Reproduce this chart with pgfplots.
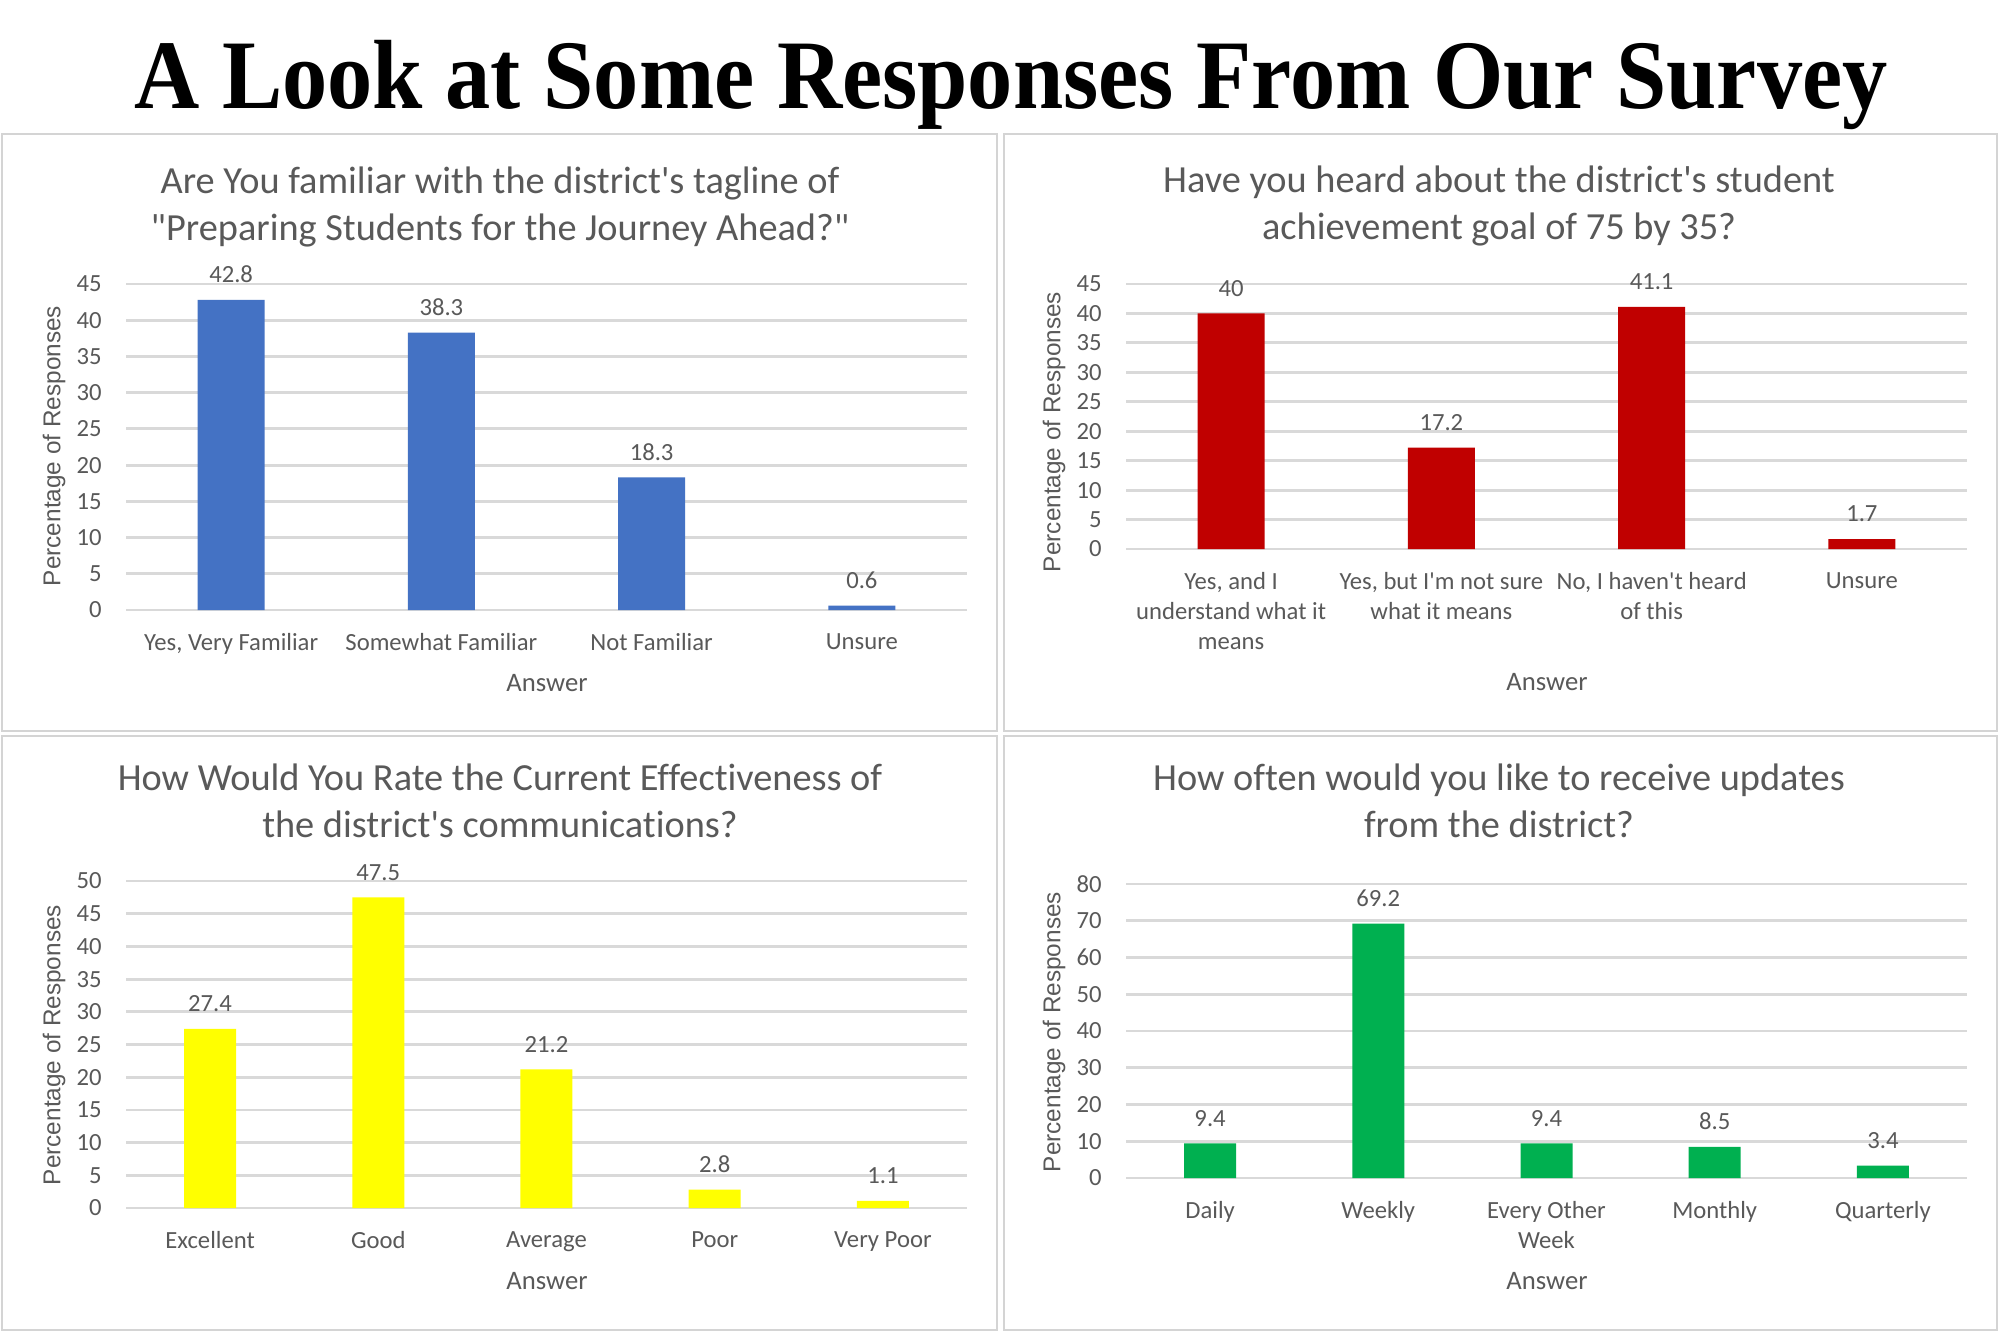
\documentclass[border=0pt]{standalone}
\usepackage{pgfplots}
\pgfplotsset{compat=1.18}
\usepackage{fontspec}
\setmainfont{Carlito}[Ligatures={TeXOff,CommonOff}]
\newfontfamily\ylabfont{Liberation Sans}
\newfontfamily\titlefont{Liberation Serif}
\definecolor{txt}{HTML}{595959}
\definecolor{gridc}{HTML}{D9D9D9}
\definecolor{framec}{HTML}{D4D4D4}
\definecolor{barblue}{HTML}{4472C4}
\definecolor{barred}{HTML}{C00000}
\definecolor{baryellow}{HTML}{FFFF00}
\definecolor{bargreen}{HTML}{00B050}

\pgfplotsset{
  /pgf/number format/assume math mode=true,
  surveybar/.style={
    scale only axis, anchor=south west, clip=false,
    width=252.3pt,
    axis line style={draw=none},
    ymin=0, ymajorgrids,
    grid style={gridc, line width=0.85pt},
    major tick length=0pt,
    xtick=data,
    ybar,
    tick label style={font=\fontsize{7.4}{9}\selectfont, text=txt},
    yticklabel style={xshift=-3.8pt},
    xticklabel style={yshift=-3.6pt, align=center},
    nodes near coords,
    every node near coord/.append style={font=\fontsize{7.4}{9}\selectfont, text=txt, yshift=1.6pt},
  },
}

\begin{document}
\begin{tikzpicture}
\fill[white] (0pt,0pt) rectangle (600pt,-400pt);
\useasboundingbox (0pt,0pt) rectangle (600pt,-400pt);

% panel 1: tagline
\begin{axis}[surveybar, at={(37.8pt,-183pt)}, height=97.8pt,
  ymax=45, ytick distance=5, xmin=-0.5, xmax=3.5,
  xticklabels={Yes{,} Very Familiar, Somewhat Familiar, Not Familiar, Unsure}]
\addplot[fill=barblue, draw=none, bar width=20.1pt] coordinates {(0,42.8)(1,38.3)(2,18.3)(3,0.6)};
\end{axis}

% panel 2: 75 by 35
\begin{axis}[surveybar, at={(337.8pt,-164.7pt)}, height=79.5pt,
  ymax=45, ytick distance=5, xmin=-0.5, xmax=3.5,
  xticklabels={{Yes, and I\\understand what it\\means}, {Yes, but I'm not sure\\what it means}, {No, I haven't heard\\of this}, Unsure}]
\addplot[fill=barred, draw=none, bar width=20.1pt] coordinates {(0,40)(1,17.2)(2,41.1)(3,1.7)};
\end{axis}

% panel 3: effectiveness
\begin{axis}[surveybar, at={(37.8pt,-362.4pt)}, height=98.1pt,
  ymax=50, ytick distance=5, xmin=-0.5, xmax=4.5,
  xticklabels={Excellent, Good, Average, Poor, Very Poor}]
\addplot[fill=baryellow, draw=none, bar width=15.6pt] coordinates {(0,27.4)(1,47.5)(2,21.2)(3,2.8)(4,1.1)};
\end{axis}

% panel 4: update frequency
\begin{axis}[surveybar, at={(337.8pt,-353.4pt)}, height=88.2pt,
  ymax=80, ytick distance=10, xmin=-0.5, xmax=4.5,
  xticklabels={Daily, Weekly, {Every Other\\Week}, Monthly, Quarterly}]
\addplot[fill=bargreen, draw=none, bar width=15.6pt] coordinates {(0,9.4)(1,69.2)(2,9.4)(3,8.5)(4,3.4)};
\end{axis}

\begin{scope}[x=0.3pt, y=-0.3pt]
% panel frames
\draw[framec, line width=0.8pt] (2,134) rectangle (997,731);
\draw[framec, line width=0.8pt] (1004,134) rectangle (1997,731);
\draw[framec, line width=0.8pt] (2,736) rectangle (997,1330);
\draw[framec, line width=0.8pt] (1004,736) rectangle (1997,1330);

% main title
\node[anchor=base, inner sep=0pt] at (1011,108)
  {\resizebox{526pt}{\height}{\titlefont\bfseries\fontsize{29.5}{30}\selectfont A Look at Some Responses From Our Survey}};

% chart titles
\tikzset{ctitle/.style={anchor=base, inner sep=0pt, text=txt, font=\fontsize{11.5}{14}\selectfont}}
\node[ctitle] at (500,193) {Are You familiar with the district's tagline of};
\node[ctitle] at (500,240) {"Preparing Students for the Journey Ahead?"};
\node[ctitle] at (1499,192) {Have you heard about the district's student};
\node[ctitle] at (1499,239) {achievement goal of 75 by 35?};
\node[ctitle] at (500,790) {How Would You Rate the Current Effectiveness of};
\node[ctitle] at (500,837) {the district's communications?};
\node[ctitle] at (1499,790) {How often would you like to receive updates};
\node[ctitle] at (1499,837) {from the district?};

% axis titles
\tikzset{xlab/.style={text=txt, font=\fontsize{8}{9}\selectfont},
         ylab/.style={text=txt, rotate=90, font=\ylabfont\fontsize{7.3}{9}\selectfont}}
\node[xlab] at (547,683) {Answer};
\node[xlab] at (1547,682) {Answer};
\node[xlab] at (547,1281) {Answer};
\node[xlab] at (1547,1281) {Answer};
\node[ylab] at (54,446) {Percentage of Responses};
\node[ylab] at (1054,432) {Percentage of Responses};
\node[ylab] at (54,1045) {Percentage of Responses};
\node[ylab] at (1054,1032) {Percentage of Responses};
\end{scope}
\end{tikzpicture}
\end{document}
